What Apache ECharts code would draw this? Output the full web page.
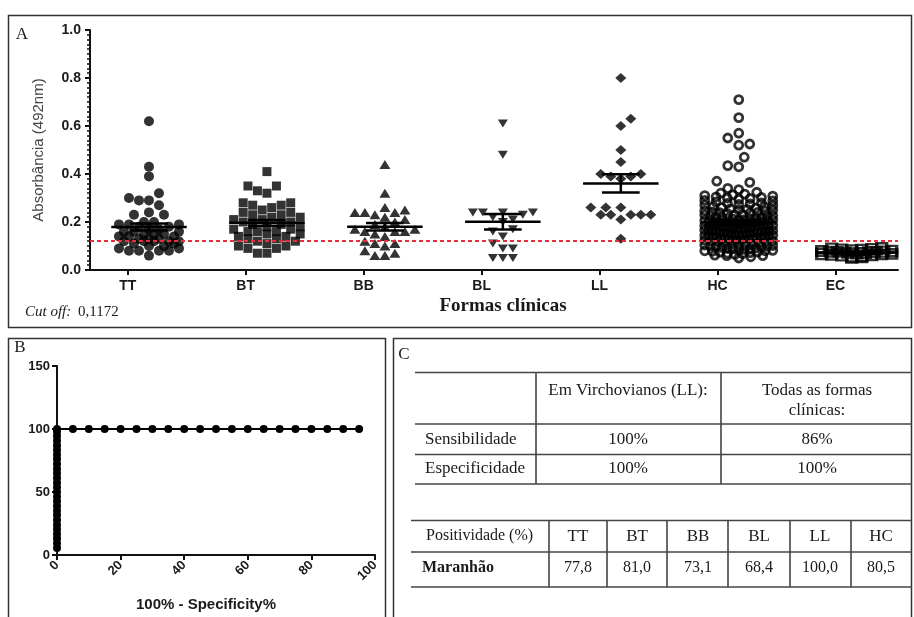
<!DOCTYPE html>
<html><head><meta charset="utf-8">
<script src="https://cdn.jsdelivr.net/npm/echarts@6/dist/echarts.min.js"></script>
<style>html,body{margin:0;padding:0;background:#fff}#c{width:914px;height:617px}</style>
</head><body><div id="c"></div>
<script>
// ---------------- DATA ----------------
const categories = ['TT','BT','BB','BL','LL','HC','EC'];
const cutoff = 0.1172;
const ttValues = [0.62,0.43,0.39,0.32,0.30,0.29,0.29,0.27,0.24,0.23,0.23,0.20,0.20,0.19,0.19,0.19,0.18,0.18,0.17,0.17,0.16,0.16,0.16,0.15,0.15,0.15,0.14,0.14,0.14,0.13,0.13,0.13,0.12,0.12,0.12,0.12,0.12,0.11,0.11,0.10,0.10,0.09,0.09,0.08,0.08,0.08,0.08,0.06];
const btValues = [0.41,0.35,0.35,0.33,0.32,0.28,0.28,0.27,0.27,0.26,0.25,0.24,0.24,0.23,0.23,0.22,0.22,0.21,0.21,0.20,0.20,0.19,0.19,0.18,0.18,0.17,0.17,0.16,0.16,0.16,0.15,0.15,0.14,0.14,0.13,0.13,0.12,0.12,0.11,0.10,0.10,0.09,0.09,0.07,0.07];
const bbValues = [0.44,0.32,0.26,0.25,0.24,0.24,0.24,0.23,0.22,0.21,0.20,0.19,0.18,0.17,0.17,0.16,0.16,0.16,0.15,0.14,0.12,0.11,0.11,0.10,0.08,0.07,0.06,0.06];
const blValues = [0.61,0.48,0.24,0.24,0.24,0.24,0.23,0.22,0.21,0.20,0.17,0.16,0.14,0.11,0.09,0.09,0.05,0.05,0.05];
const llValues = [0.80,0.63,0.60,0.50,0.45,0.40,0.39,0.38,0.39,0.40,0.26,0.26,0.26,0.23,0.23,0.23,0.23,0.23,0.21,0.13];
const hcValues = [0.050,0.055,0.060,0.060,0.062,0.065,0.068,0.070,0.072,0.074,0.075,0.078,0.080,0.080,0.082,0.084,0.086,0.088,0.090,0.090,0.092,0.094,0.096,0.098,0.100,0.100,0.102,0.104,0.106,0.108,0.110,0.110,0.112,0.115,
0.118,0.120,0.121,0.122,0.124,0.125,0.127,0.128,
0.130,0.131,0.132,0.133,0.134,0.135,0.136,0.137,0.138,
0.140,0.141,0.142,0.143,0.144,0.145,0.146,0.147,0.149,
0.150,0.151,0.152,0.153,0.154,0.155,0.156,0.157,0.159,
0.160,0.161,0.162,0.163,0.164,0.165,0.166,0.167,0.169,
0.170,0.171,0.173,0.174,0.175,0.176,0.178,0.179,
0.180,0.181,0.183,0.184,0.185,0.186,0.188,0.189,
0.190,0.191,0.193,0.194,0.195,0.196,0.198,0.199,
0.200,0.202,0.203,0.205,0.206,0.208,0.209,
0.210,0.212,0.214,0.215,0.217,0.219,
0.220,0.222,0.224,0.225,0.227,0.229,
0.230,0.232,0.235,0.237,0.239,
0.240,0.242,0.245,0.247,0.249,
0.250,0.253,0.255,0.258,
0.260,0.263,0.265,0.268,
0.270,0.273,0.275,0.278,
0.280,0.284,0.288,
0.290,0.294,0.298,
0.300,0.302,0.305,0.308,
0.310,0.313,0.316,
0.320,0.324,
0.335,0.340,0.365,0.370,0.430,0.435,0.470,0.520,0.525,0.550,0.570,0.635,0.710];
const ecValues = [0.045,0.048,0.050,0.052,0.055,0.056,0.058,0.060,0.060,0.062,0.063,0.065,0.066,0.068,0.070,0.070,0.071,0.072,0.074,0.075,0.076,0.078,0.079,0.080,0.081,0.082,0.083,0.085,0.086,0.088,0.090,0.091,0.093,0.095,0.097];

// ROC curve (panel B)
const rocFpr  = [0,0,0,0,0,0,0,0,0,0,0,0,0,0,0,0,0,0,0,0,0,0,0,0,0,0,0,5,10,15,20,25,30,35,40,45,50,55,60,65,70,75,80,85,90,95];
const rocSens = [5.6,9.3,13.0,16.7,20.4,24.1,27.8,31.5,35.2,38.9,42.6,46.3,50.0,53.7,57.4,61.1,64.8,68.5,72.2,75.9,79.6,83.3,87.0,90.7,94.4,98.1,100,100,100,100,100,100,100,100,100,100,100,100,100,100,100,100,100,100,100,100];

// Table (panel C)
const t1Header = ['Em Virchovianos (LL):', 'Todas as formas\nclínicas:'];
const t1RowLabels = ['Sensibilidade','Especificidade'];
const t1Virchovianos = ['100%','100%'];
const t1Todas = ['86%','100%'];
const t2Header = 'Positividade (%)';
const t2Cats = ['TT','BT','BB','BL','LL','HC'];
const t2RowLabel = 'Maranhão';
const t2Values = ['77,8','81,0','73,1','68,4','100,0','80,5'];

// ---------------- LAYOUT ----------------
const SANS = 'Liberation Sans', SERIF = 'Liberation Serif';
const GA = {left:90, top:30, width:808, height:240};
const xMinA = -0.5, xMaxA = 6.35;
const labelShift = -0.18;
const pxX = GA.width/(xMaxA-xMinA), pxY = GA.height/1.0;
const GB = {left:57, top:366, width:318, height:189};

// beeswarm layout for sparse points
function swarm(vals, ci, diam, maxHalf){
  const sorted = vals.slice().sort((a,b)=>a-b);
  const placed = [], out = [];
  const step = diam/2;
  sorted.forEach((v, idx)=>{
    const yp = v*pxY;
    let chosen = null, best = -1, bestOff = 0;
    for (let k=0; k*step<=maxHalf; k++){
      const offs = k===0 ? [0] : (idx%2 ? [-k*step, k*step] : [k*step, -k*step]);
      for (const off of offs){
        let md = Infinity;
        for (const p of placed){ const d = Math.hypot(p[0]-off, p[1]-yp); if (d<md) md=d; }
        if (md >= diam*0.92){ chosen = off; break; }
        if (md > best){ best = md; bestOff = off; }
      }
      if (chosen!==null) break;
    }
    if (chosen===null) chosen = bestOff;
    placed.push([chosen, yp]);
    out.push([ci + chosen/pxX, v]);
  });
  return out;
}
// row layout for very dense groups: each row spread symmetrically, squeezed into max width
function columnScatter(vals, ci, diam, rowH, maxHalf){
  const rows = new Map();
  vals.slice().sort((a,b)=>a-b).forEach(v=>{
    const r = Math.floor(v*pxY/rowH);
    if (!rows.has(r)) rows.set(r, []);
    rows.get(r).push(v);
  });
  const out = [];
  rows.forEach(list=>{
    const n = list.length;
    const s = n>1 ? Math.min(diam, 2*maxHalf/(n-1)) : 0;
    const order = [];
    list.forEach((v,j)=>{ if (j%2) order.push(v); else order.unshift(v); });
    order.forEach((v,j)=>{ out.push([ci + (j-(n-1)/2)*s/pxX, v]); });
  });
  return out;
}
function layout(vals, ci, st){
  if (!st.dense) return swarm(vals, ci, st.d, st.half);
  const lim = st.denseTop;
  return columnScatter(vals.filter(v=>v<=lim), ci, st.d, st.rowH, st.half)
    .concat(swarm(vals.filter(v=>v>lim), ci, st.sparseD, st.half));
}
function stats(vals){
  const n = vals.length, m = vals.reduce((a,b)=>a+b,0)/n;
  const sd = Math.sqrt(vals.reduce((a,b)=>a+(b-m)*(b-m),0)/(n-1));
  return [m, sd/Math.sqrt(n)];
}

const groupVals = [ttValues, btValues, bbValues, blValues, llValues, hcValues, ecValues];
const groupStyle = [
  {symbol:'circle', size:10, d:10, hollow:false, rot:0, half:34},
  {symbol:'rect', size:9, d:9.5, hollow:false, rot:0, half:34},
  {symbol:'triangle', size:[11,9], d:10, hollow:false, rot:0, half:30},
  {symbol:'triangle', size:[10,8], d:10, hollow:false, rot:180, half:32},
  {symbol:'diamond', size:[11,10], d:10, hollow:false, rot:0, half:36},
  {symbol:'circle', size:8, d:12, rowH:5, dense:true, denseTop:0.325, sparseD:11, hollow:true, rot:0, half:34},
  {symbol:'rect', size:[10,7], d:10, rowH:3, dense:true, denseTop:1, sparseD:10, hollow:true, rot:0, half:35}
];

const series = [];
groupVals.forEach((vals, i)=>{
  const st = groupStyle[i];
  series.push({
    type:'scatter', xAxisIndex:0, yAxisIndex:0, z:2,
    symbol: st.symbol, symbolSize: st.size, symbolRotate: st.rot,
    data: layout(vals, i, st),
    itemStyle: st.hollow ? {color:'rgba(0,0,0,0)', borderColor:'#000', borderWidth:2.8} : {color:'#000'},
    silent:true
  });
});
const meanData = groupVals.map((vals,i)=>{ const s = stats(vals); return [i, s[0], s[1]]; });
const meanHalf = 0.32, capHalf = 0.16;
series.push({
  type:'custom', xAxisIndex:0, yAxisIndex:0, z:4, silent:true,
  data: meanData,
  renderItem(params, api){
    const x = api.value(0), m = api.value(1), s = api.value(2);
    const a = api.coord([x-meanHalf, m]), b = api.coord([x+meanHalf, m]);
    const t = api.coord([x, m+s]), u = api.coord([x, m-s]);
    const cw = api.size([capHalf, 0])[0];
    const ls = {stroke:'#000', lineWidth:2.5};
    return {type:'group', children:[
      {type:'line', shape:{x1:a[0],y1:a[1],x2:b[0],y2:b[1]}, style:ls},
      {type:'line', shape:{x1:t[0],y1:t[1],x2:u[0],y2:u[1]}, style:ls},
      {type:'line', shape:{x1:t[0]-cw,y1:t[1],x2:t[0]+cw,y2:t[1]}, style:ls},
      {type:'line', shape:{x1:u[0]-cw,y1:u[1],x2:u[0]+cw,y2:u[1]}, style:ls}
    ]};
  }
});
series.push({
  type:'scatter', xAxisIndex:0, yAxisIndex:0, z:10, data:[], silent:true,
  markLine:{silent:true, symbol:'none', animation:false, label:{show:false},
    lineStyle:{color:'#e3303b', type:[4,3], width:2}, data:[{yAxis:cutoff}]}
});
series.push({
  type:'line', xAxisIndex:1, yAxisIndex:1, z:3, silent:true,
  data: rocFpr.map((x,i)=>[x, rocSens[i]]),
  symbol:'circle', symbolSize:8, showSymbol:true,
  itemStyle:{color:'#000'}, lineStyle:{color:'#000', width:2}
});

// graphics: frames, texts, tables
const gfx = [];
const LC = '#333';
function rect(x,y,w,h){ gfx.push({type:'rect', shape:{x,y,width:w,height:h}, style:{fill:'none', stroke:LC, lineWidth:1.5}, silent:true}); }
function hline(x1,x2,y,w){ gfx.push({type:'line', shape:{x1,y1:y,x2,y2:y}, style:{stroke:'#444', lineWidth:w||1.6}, silent:true}); }
function vline(x,y1,y2,w){ gfx.push({type:'line', shape:{x1:x,y1,x2:x,y2}, style:{stroke:'#444', lineWidth:w||1.6}, silent:true}); }
function txt(x,y,s,font,align,valign,extra){
  gfx.push({type:'text', x:0, y:0, silent:true, style:Object.assign({text:s, x, y, font, fill:'#1a1a1a',
    align:align||'left', verticalAlign:valign||'middle', textAlign:align||'left', textVerticalAlign:valign||'middle'}, extra||{})});
}
rect(8.5, 15.5, 903, 312);
rect(8.5, 338.5, 377, 300);
rect(393.5, 338.5, 518, 300);
txt(22, 35, 'A', '17px '+SERIF, 'center');
txt(20, 348, 'B', '17px '+SERIF, 'center');
txt(404, 355, 'C', '17px '+SERIF, 'center');
txt(503, 306, 'Formas clínicas', 'bold 19px '+SERIF, 'center');
txt(25, 312, 'Cut off:', 'italic 15px '+SERIF, 'left');
txt(78, 312, '0,1172', '15px '+SERIF, 'left');
txt(206, 605, '100% - Specificity%', 'bold 15px '+SANS, 'center');

// table 1
const t1Lines = [372.5, 424, 454.5, 484], t1ColX = [628, 817], t1Div = [536, 721], t1RowY = [440, 469];
t1Lines.forEach(y=>hline(415, 912, y));
t1Div.forEach(x=>vline(x, t1Lines[0], t1Lines[3]));
t1Header.forEach((h,i)=>txt(t1ColX[i], 381, h, '17px '+SERIF, 'center', 'top', {lineHeight:20}));
t1RowLabels.forEach((r,i)=>{
  txt(425, t1RowY[i], r, '17px '+SERIF, 'left');
  txt(t1ColX[0], t1RowY[i], t1Virchovianos[i], '17px '+SERIF, 'center');
  txt(t1ColX[1], t1RowY[i], t1Todas[i], '17px '+SERIF, 'center');
});
// table 2
const t2Lines = [520.5, 552, 587], t2Div = [549, 607, 667, 728, 790, 851], t2ColX = [578, 637, 698, 759, 820, 881];
t2Lines.forEach(y=>hline(411, 912, y));
t2Div.forEach(x=>vline(x, t2Lines[0], t2Lines[2]));
txt(426, 536, t2Header, '16px '+SERIF, 'left');
txt(422, 568, t2RowLabel, 'bold 16px '+SERIF, 'left');
t2Cats.forEach((c,i)=>{
  txt(t2ColX[i], 537, c, '17px '+SERIF, 'center');
  txt(t2ColX[i], 568, t2Values[i], '16px '+SERIF, 'center');
});

const axisLineStyle = {color:'#111', width:2};
const option = {
  animation:false,
  backgroundColor:'#fff',
  grid:[
    {left:GA.left, top:GA.top, width:GA.width, height:GA.height},
    {left:GB.left, top:GB.top, width:GB.width, height:GB.height}
  ],
  xAxis:[
    {type:'value', gridIndex:0, min:xMinA, max:xMaxA, splitLine:{show:false},
     axisLine:{show:true, onZero:false, lineStyle:axisLineStyle},
     axisTick:{show:true, length:5, lineStyle:{color:'#111', width:2}, customValues: categories.map((c,i)=>i+labelShift)},
     axisLabel:{show:true, customValues: categories.map((c,i)=>i+labelShift), margin:9,
       formatter:v=>categories[Math.round(v-labelShift)], fontFamily:SANS, fontWeight:'bold', fontSize:14, color:'#1a1a1a'}},
    {type:'value', gridIndex:1, min:0, max:100, interval:20, splitLine:{show:false},
     axisLine:{show:true, onZero:false, lineStyle:axisLineStyle},
     axisTick:{show:true, length:5, lineStyle:{color:'#111', width:2}},
     axisLabel:{rotate:45, margin:8, fontFamily:SANS, fontWeight:'bold', fontSize:13, color:'#1a1a1a'}}
  ],
  yAxis:[
    {type:'value', gridIndex:0, min:0, max:1, interval:0.2, splitLine:{show:false},
     axisLine:{show:true, onZero:false, lineStyle:axisLineStyle},
     axisTick:{show:true, length:5, lineStyle:{color:'#111', width:2}},
     minorTick:{show:true, splitNumber:10, length:3, lineStyle:{color:'#111', width:1.5}},
     axisLabel:{margin:9, formatter:v=>v.toFixed(1), fontFamily:SANS, fontWeight:'bold', fontSize:14, color:'#1a1a1a'},
     name:'Absorbância (492nm)', nameLocation:'middle', nameGap:44,
     nameTextStyle:{fontFamily:SANS, fontSize:15, color:'#444'}},
    {type:'value', gridIndex:1, min:0, max:150, interval:50, splitLine:{show:false},
     axisLine:{show:true, onZero:false, lineStyle:axisLineStyle},
     axisTick:{show:true, length:5, lineStyle:{color:'#111', width:2}},
     axisLabel:{margin:7, fontFamily:SANS, fontWeight:'bold', fontSize:13, color:'#1a1a1a'}}
  ],
  series,
  graphic: gfx
};
const chart = echarts.init(document.getElementById('c'));
chart.setOption(option);
</script>
</body></html>
